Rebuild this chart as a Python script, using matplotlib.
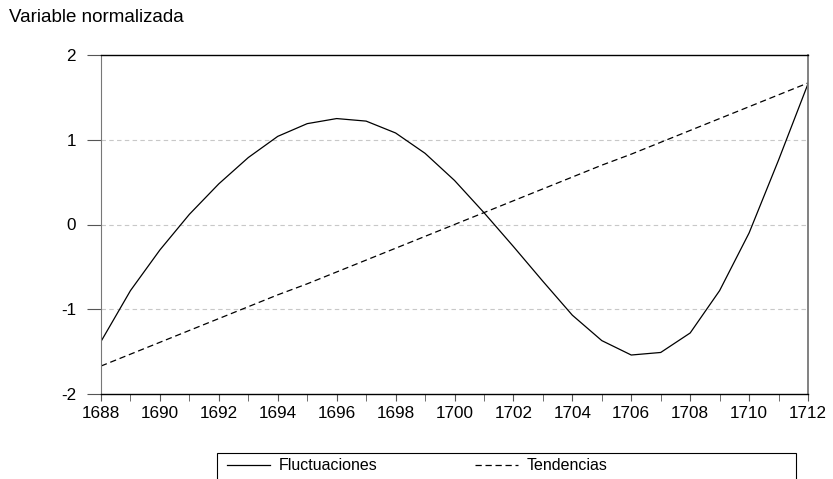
import numpy as np
import matplotlib.pyplot as plt
from matplotlib.patches import Rectangle

plt.rcParams['font.family'] = ['Liberation Sans', 'DejaVu Sans']
plt.rcParams['axes.unicode_minus'] = False

years = np.arange(1688, 1713)
fluctuaciones = [-1.38, -0.78, -0.30, 0.12, 0.48, 0.79, 1.04, 1.19, 1.25, 1.22,
                 1.08, 0.84, 0.52, 0.14, -0.26, -0.67, -1.07, -1.37, -1.54, -1.51,
                 -1.28, -0.78, -0.10, 0.76, 1.66]
tendencias = [-1.67, -1.53, -1.39, -1.25, -1.11, -0.97, -0.83, -0.70, -0.56, -0.42,
              -0.28, -0.14, 0.00, 0.14, 0.28, 0.42, 0.56, 0.70, 0.83, 0.97,
              1.11, 1.25, 1.39, 1.53, 1.67]

fig = plt.figure(figsize=(8.33, 4.79), dpi=100)
ax = fig.add_axes([101/833, 1-394/479, (808-101)/833, (394-55)/479])

l1, = ax.plot(years, fluctuaciones, color='black', lw=0.9)
l2, = ax.plot(years, tendencias, color='black', lw=0.9, ls=(0, (5, 3)))

for yv in [-1, 0, 1]:
    ax.axhline(yv, color='#c8c8c8', lw=0.8, ls=(0, (4, 3)), zorder=0)

ax.set_xlim(1688, 1712)
ax.set_ylim(-2, 2)
ax.set_yticks([-2, -1, 0, 1, 2])
ax.set_xticks(np.arange(1688, 1713, 2))
ax.set_xticks(np.arange(1688, 1713, 1), minor=True)
ax.tick_params(axis='both', which='both', direction='out', labelsize=12.3, color='#555555')
ax.tick_params(axis='x', which='both', length=5, pad=4)
ax.tick_params(axis='y', length=10, pad=8)
ax.spines['left'].set_color('#777777')
ax.spines['right'].set_color('#777777')
ax.spines['right'].set_linewidth(1.3)
ax.spines['top'].set_linewidth(1.0)
ax.spines['bottom'].set_linewidth(1.0)

fig.text(9/833, 1-18/479, 'Variable normalizada', fontsize=13.5, va='center', ha='left')

# legend box runs off the bottom edge, as in the original
fig.patches.append(Rectangle((217/833, -0.05), (796-217)/833, 0.05+1-453/479,
                             transform=fig.transFigure, fill=False,
                             edgecolor='black', lw=0.8))
fig.legend([l1, l2], ['Fluctuaciones', 'Tendencias'], ncol=2,
           loc='center left', bbox_to_anchor=(227/833, 1-466/479),
           frameon=False, fontsize=11.5, handlelength=2.7, handletextpad=0.55,
           columnspacing=6.1, borderaxespad=0, borderpad=0)

fig.savefig('out.png', dpi=100)
